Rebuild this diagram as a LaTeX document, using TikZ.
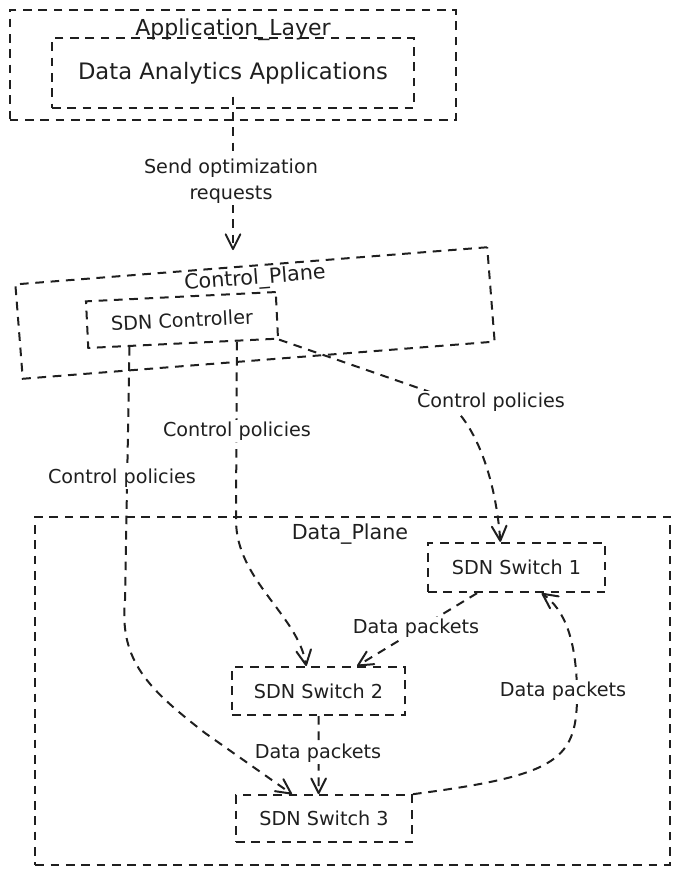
\documentclass[tikz,border=0pt]{standalone}
\usepackage{fontspec}
\setmainfont{DejaVu Sans}
\usetikzlibrary{arrows.meta,calc}
\begin{document}
\begin{tikzpicture}[x=0.75pt,y=-0.75pt,
  sk/.style={line width=1.5pt, dash pattern=on 6.5pt off 5pt, color=black!88},
  boxst/.style={sk, draw, rectangle, inner sep=0pt, align=center, text=black!88},
  conn/.style={sk, -{Straight Barb[length=11pt,width=11pt,line width=1.5pt,round]}},
  lbl/.style={font=\fontsize{14.4}{19.5}\selectfont, fill=white, inner sep=1.5pt, align=center, text=black!88},
  ttl/.style={font=\fontsize{15.5}{18}\selectfont, inner sep=1pt, text=black!88}]
\useasboundingbox (0,0) rectangle (680,875);
% containers
\node[boxst, minimum width=335pt, minimum height=82.5pt] (applayer) at (233,65) {};
\node[ttl, font=\fontsize{16.5}{19}\selectfont] (applabel) at (233,30) {Application\_Layer};
\node[boxst, minimum width=271.5pt, minimum height=52pt, font=\fontsize{17}{20}\selectfont] (daa) at (233,73) {Data Analytics Applications};
\node[boxst, rotate=4.5, minimum width=355pt, minimum height=71pt] (ctrlplane) at (255,313) {};
\node[ttl, rotate=4.5] (ctrllabel) at (255,279) {Control\_Plane};
\node[boxst, rotate=2.8, minimum width=142.5pt, minimum height=35pt, font=\fontsize{14.4}{17}\selectfont] (sdnctrl) at (182,320) {SDN Controller};
\node[boxst, minimum width=476pt, minimum height=261pt] (dataplane) at (352.5,691) {};
\node[ttl] (datalabel) at (350,534) {Data\_Plane};
\node[boxst, minimum width=133pt, minimum height=37pt, font=\fontsize{14.4}{17}\selectfont] (sw1) at (516.5,567.5) {SDN Switch 1};
\node[boxst, minimum width=130pt, minimum height=36pt, font=\fontsize{14.4}{17}\selectfont] (sw2) at (318.5,691) {SDN Switch 2};
\node[boxst, minimum width=132pt, minimum height=35pt, font=\fontsize{14.4}{17}\selectfont] (sw3) at (324,818.5) {SDN Switch 3};
\coordinate (reqend) at (233,250);
% connectors
\draw[conn] ([yshift=9pt]daa.south) -- (reqend);
\draw[conn] ($(sdnctrl.south west)!0.22!(sdnctrl.south east)$) -- (125,600) .. controls (119,662) and (150,690) .. (205,733) -- ($(sw3.north west)!0.32!(sw3.north east)$);
\draw[conn] ($(sdnctrl.south west)!0.78!(sdnctrl.south east)$) -- (236,520) .. controls (236,580) and (298,615) .. ($(sw2.north west)!0.43!(sw2.north east)$);
\draw[conn] (sdnctrl.south east) -- (430,392) .. controls (470,406) and (495,470) .. ($(sw1.north west)!0.41!(sw1.north east)$);
\draw[conn] ($(sw1.south west)!0.28!(sw1.south east)$) -- ($(sw2.north west)!0.72!(sw2.north east)$);
\draw[conn] (sw2.south) -- ($(sw3.north west)!0.47!(sw3.north east)$);
\draw[conn] (sw3.north east) .. controls (560,775) and (578,760) .. (577,690) .. controls (576,640) and (565,610) .. ($(sw1.south west)!0.64!(sw1.south east)$);
% labels
\node[lbl] (l1) at (231,181) {Send optimization\\requests};
\node[lbl] (l2) at (122,478) {Control policies};
\node[lbl] (l3) at (237,431) {Control policies};
\node[lbl] (l4) at (491,402) {Control policies};
\node[lbl] (l5) at (416,628) {Data packets};
\node[lbl] (l6) at (318,753) {Data packets};
\node[lbl] (l7) at (563,691) {Data packets};
\end{tikzpicture}
\end{document}
